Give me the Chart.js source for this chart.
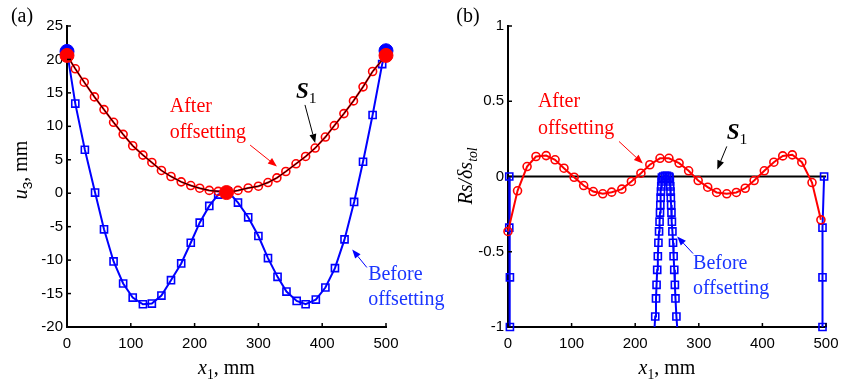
<!DOCTYPE html>
<html>
<head>
<meta charset="utf-8">
<script src="https://cdn.jsdelivr.net/npm/chart.js@4.4.0/dist/chart.umd.min.js"></script>
<style>
    body { margin: 0; background: #fff; }
    #wrap { position: relative; width: 849px; height: 381px; }
    canvas { position: absolute; top: 0; }
    #chartA { left: 0; }
    #chartB { left: 424px; }
</style>
</head>
<body>
<div id="wrap">
    <canvas id="chartA" width="470" height="381"></canvas>
    <canvas id="chartB" width="425" height="381"></canvas>
</div>
<script>
//------------Data (a) : u3 along x1-----------------
const xTicks = [0, 100, 200, 300, 400, 500];
const u3Ticks = [-20, -15, -10, -5, 0, 5, 10, 15, 20, 25];

const afterX = [0, 13, 27, 43, 58, 73, 88, 103, 119, 133, 148, 163, 179, 194, 208, 223, 237, 250,
    268, 284, 300, 315, 329, 343, 359, 374, 389, 405, 419, 434, 449, 464, 479, 500];
const afterU3 = [20.6, 18.6, 16.6, 14.4, 12.5, 10.6, 8.8, 7.1, 5.7, 4.6, 3.4, 2.5, 1.7, 1.15, 0.75, 0.42, 0.27, 0.1,
    0.42, 0.78, 1.05, 1.6, 2.3, 3.25, 4.4, 5.5, 6.75, 8.4, 10.1, 11.9, 13.8, 15.9, 18.2, 20.6];

const beforeX = [0, 13, 28, 44, 58, 73, 88, 103, 119, 133, 148, 163, 179, 194, 208, 223, 237, 252,
    268, 284, 300, 315, 330, 344, 360, 374, 390, 405, 420, 435, 450, 464, 479, 494, 500];
const beforeU3 = [21.2, 13.4, 6.5, 0.1, -5.4, -10.2, -13.5, -15.6, -16.6, -16.5, -15.3, -13.0, -10.5, -7.4, -4.4, -1.9, -0.2, 0.3,
    -1.4, -3.6, -6.4, -9.7, -12.5, -14.7, -16.1, -16.6, -15.9, -14.1, -11.2, -6.9, -1.3, 4.7, 11.7, 19.3, 21.3];

//------------Data (b) : Rs / ds_tol along x1-----------------
const rsTicks = [-1, -0.5, 0, 0.5, 1];

const afterRsX = [0, 15, 30, 44, 60, 74, 88, 104, 119, 134, 149, 163, 179, 194, 209, 223, 239, 253,
    269, 284, 299, 314, 328, 344, 359, 373, 387, 403, 418, 432, 447, 462, 478, 492];
const afterRs = [-0.365, -0.095, 0.066, 0.133, 0.139, 0.111, 0.055, -0.005, -0.06, -0.1, -0.115, -0.104, -0.084, -0.033, 0.022, 0.078, 0.121, 0.121,
    0.089, 0.038, -0.027, -0.071, -0.106, -0.115, -0.106, -0.078, -0.027, 0.038, 0.095, 0.137, 0.144, 0.095, -0.04, -0.288];

// before offsetting: clipped at -1, three visible pieces
const beforeRsLeftX = [2, 2, 3, 3];
const beforeRsLeft = [0, -0.34, -0.67, -1];
const beforeRsMidX = [230.5, 231.5, 232.7, 233.6, 234.6, 235.6, 236.5, 237.5, 238.3, 239, 239.5, 240, 240.5, 241, 241.5, 242, 244, 247,
    250, 253, 254, 254.5, 255, 255.5, 256, 256.5, 257, 257.7, 258.5, 259.5, 260.4, 261.4, 262.4, 263.3, 264.8, 266];
const beforeRsMid = [-1, -0.93, -0.81, -0.72, -0.62, -0.53, -0.44, -0.365, -0.3, -0.24, -0.19, -0.14, -0.1, -0.066, -0.033, -0.007, 0, 0.005,
    0.005, 0, -0.007, -0.033, -0.066, -0.1, -0.14, -0.19, -0.24, -0.3, -0.365, -0.44, -0.53, -0.62, -0.72, -0.81, -0.93, -1];
const beforeRsRightX = [497, 494.5, 494.5, 494.5];
const beforeRsRight = [0, -0.34, -0.67, -1];

const s1X = [0, 500];
const s1Rs = [0, 0];

//------------Helpers-----------------
const RED = '#ff0000';
const BLUE = '#0000ff';
const SERIF = '"Liberation Serif", "Times New Roman", serif';
const SANS = '"Liberation Sans", Arial, sans-serif';

function pts(xs, ys) {
    return xs.map((x, i) => ({ x: x, y: ys[i] }));
}

// draw text made of parts (italic / bold / subscript)
function drawRich(ctx, parts, x, y, size, align, color) {
    let total = 0;
    const info = parts.map(p => {
        const s = p.sub ? size * 0.68 : size;
        const f = (p.italic ? 'italic ' : '') + (p.bold ? 'bold ' : '') + s + 'px ' + (p.sans ? SANS : SERIF);
        ctx.font = f;
        const w = ctx.measureText(p.text).width;
        total += w;
        return { f: f, w: w, dy: p.sub ? size * 0.3 : 0 };
    });
    let cx = align === 'center' ? x - total / 2 : x;
    ctx.fillStyle = color;
    ctx.textBaseline = 'middle';
    ctx.textAlign = 'left';
    parts.forEach((p, i) => {
        ctx.font = info[i].f;
        ctx.fillText(p.text, cx, y + info[i].dy);
        cx += info[i].w;
    });
}

function drawArrow(ctx, x1, y1, x2, y2, color) {
    const a = Math.atan2(y2 - y1, x2 - x1);
    const head = 9, half = 3.5;
    const c = Math.cos(a), s = Math.sin(a);
    ctx.strokeStyle = color;
    ctx.fillStyle = color;
    ctx.lineWidth = 1;
    ctx.beginPath();
    ctx.moveTo(x1, y1);
    ctx.lineTo(x2 - head * c, y2 - head * s);
    ctx.stroke();
    ctx.beginPath();
    ctx.moveTo(x2, y2);
    ctx.lineTo(x2 - head * c + half * s, y2 - head * s - half * c);
    ctx.lineTo(x2 - head * c - half * s, y2 - head * s + half * c);
    ctx.closePath();
    ctx.fill();
}

// inward tick marks + titles + notes
const decorPlugin = {
    id: 'decor',
    afterDraw(chart, args, opts) {
        const ctx = chart.ctx;
        const xs = chart.scales.x, ys = chart.scales.y;
        const area = chart.chartArea;
        ctx.save();
        ctx.strokeStyle = '#000';
        ctx.lineWidth = 1.5;
        xs.ticks.forEach(t => {
            const px = xs.getPixelForValue(t.value);
            ctx.beginPath(); ctx.moveTo(px, area.bottom); ctx.lineTo(px, area.bottom - 4); ctx.stroke();
        });
        ys.ticks.forEach(t => {
            const py = ys.getPixelForValue(t.value);
            ctx.beginPath(); ctx.moveTo(area.left, py); ctx.lineTo(area.left + 4, py); ctx.stroke();
        });

        // panel tag
        ctx.font = '20px ' + SERIF;
        ctx.fillStyle = '#000';
        ctx.textAlign = 'center';
        ctx.textBaseline = 'middle';
        ctx.fillText(opts.tag, opts.tagX, 17);

        // x title
        drawRich(ctx, [{ text: 'x', italic: true }, { text: '1', sub: true }, { text: ', mm' }],
            (area.left + area.right) / 2, 369, 20, 'center', '#000');

        // y title (rotated)
        ctx.save();
        ctx.translate(opts.yTitleX, opts.yTitleY);
        ctx.rotate(-Math.PI / 2);
        drawRich(ctx, opts.yTitle, 0, 0, 20, 'center', '#000');
        ctx.restore();

        // notes
        opts.notes.forEach(n => {
            drawRich(ctx, n.parts, xs.getPixelForValue(n.x), ys.getPixelForValue(n.y), n.size || 20, 'left', n.color);
        });
        opts.arrows.forEach(a => {
            drawArrow(ctx, xs.getPixelForValue(a.x1), ys.getPixelForValue(a.y1),
                xs.getPixelForValue(a.x2), ys.getPixelForValue(a.y2), a.color);
        });
        ctx.restore();
    }
};

function axes(yTicks, yMin, yMax, yWidth) {
    const tickFont = { family: SANS, size: 15 };
    return {
        x: {
            type: 'linear', min: 0, max: 500,
            afterBuildTicks: s => { s.ticks = xTicks.map(v => ({ value: v })); },
            afterFit: s => { s.height = 54; },
            grid: { display: false, drawTicks: false },
            border: { display: true, color: '#000', width: 2 },
            ticks: { color: '#000', font: tickFont, padding: 8, autoSkip: false, maxRotation: 0, callback: v => String(v) }
        },
        y: {
            type: 'linear', min: yMin, max: yMax,
            afterBuildTicks: s => { s.ticks = yTicks.map(v => ({ value: v })); },
            afterFit: s => { s.width = yWidth; },
            grid: { display: false, drawTicks: false },
            border: { display: true, color: '#000', width: 2 },
            ticks: { color: '#000', font: tickFont, padding: 4, autoSkip: false, callback: v => String(v) }
        }
    };
}

function lineSet(data, color, style, radius) {
    return {
        data: data,
        borderColor: color,
        borderWidth: 2,
        pointStyle: style,
        pointRadius: radius,
        pointBorderColor: color,
        pointBorderWidth: 1.6,
        pointBackgroundColor: 'rgba(0,0,0,0)',
        tension: 0,
        clip: false
    };
}

//------------Chart (a)-----------------
const aLast = afterU3.length - 1;
const bLast = beforeU3.length - 1;

new Chart(document.getElementById('chartA'), {
    type: 'line',
    data: {
        datasets: [
            {
                data: [
                    { x: afterX[0], y: afterU3[0] },
                    { x: afterX[17], y: afterU3[17] },
                    { x: afterX[aLast], y: afterU3[aLast] }
                ],
                showLine: false, pointRadius: 7, pointBackgroundColor: RED, pointBorderColor: RED, clip: false
            },
            {
                data: [
                    { x: beforeX[0], y: beforeU3[0] },
                    { x: beforeX[bLast], y: beforeU3[bLast] }
                ],
                showLine: false, pointRadius: 7, pointBackgroundColor: BLUE, pointBorderColor: BLUE, clip: false
            },
            // S1 follows the offset curve
            { data: pts(afterX, afterU3), borderColor: '#000', borderWidth: 1, pointRadius: 0, clip: false },
            lineSet(pts(afterX, afterU3), RED, 'circle', 4),
            lineSet(pts(beforeX, beforeU3), BLUE, 'rect', 5)
        ]
    },
    options: {
        responsive: false,
        animation: false,
        events: [],
        layout: { padding: { left: 0, top: 26, right: 84, bottom: 0 } },
        scales: axes(u3Ticks, -20, 25, 67),
        plugins: {
            legend: { display: false },
            tooltip: { enabled: false },
            decor: {
                tag: '(a)', tagX: 22, yTitleX: 22, yTitleY: 170,
                yTitle: [{ text: 'u', italic: true }, { text: '3', sub: true, sans: true }, { text: ', mm' }],
                notes: [
                    { parts: [{ text: 'After' }], x: 161, y: 12.9, color: RED },
                    { parts: [{ text: 'offsetting' }], x: 161, y: 9.1, color: RED },
                    { parts: [{ text: 'S', italic: true, bold: true }, { text: '1', sub: true }], x: 359, y: 15.1, color: '#000', size: 23 },
                    { parts: [{ text: 'Before' }], x: 472, y: -12.2, color: '#1a35ff' },
                    { parts: [{ text: 'offsetting' }], x: 472, y: -16.0, color: '#1a35ff' }
                ],
                arrows: [
                    { x1: 287, y1: 7.2, x2: 329, y2: 4.0, color: RED },
                    { x1: 373, y1: 13.2, x2: 389, y2: 7.5, color: '#000' },
                    { x1: 470, y1: -11.1, x2: 447, y2: -8.4, color: BLUE }
                ]
            }
        }
    },
    plugins: [decorPlugin]
});

//------------Chart (b)-----------------
const midSet = lineSet(pts(beforeRsMidX, beforeRsMid), BLUE, 'rect', 5);
midSet.pointRadius = c => (c.raw && c.raw.y <= -0.99 ? 0 : 5);

new Chart(document.getElementById('chartB'), {
    type: 'line',
    data: {
        datasets: [
            lineSet(pts(afterRsX, afterRs), RED, 'circle', 4),
            lineSet(pts(beforeRsLeftX, beforeRsLeft), BLUE, 'rect', 5),
            midSet,
            lineSet(pts(beforeRsRightX, beforeRsRight), BLUE, 'rect', 5),
            { data: pts(s1X, s1Rs), borderColor: '#000', borderWidth: 2, pointRadius: 0, clip: false }
        ]
    },
    options: {
        responsive: false,
        animation: false,
        events: [],
        layout: { padding: { left: 0, top: 26, right: 23, bottom: 0 } },
        scales: axes(rsTicks, -1, 1, 84),
        plugins: {
            legend: { display: false },
            tooltip: { enabled: false },
            decor: {
                tag: '(b)', tagX: 44, yTitleX: 43, yTitleY: 176,
                yTitle: [{ text: 'Rs/δs', italic: true }, { text: 'tol', italic: true, sub: true }],
                notes: [
                    { parts: [{ text: 'After' }], x: 47, y: 0.5, color: RED },
                    { parts: [{ text: 'offsetting' }], x: 47, y: 0.32, color: RED },
                    { parts: [{ text: 'S', italic: true, bold: true }, { text: '1', sub: true }], x: 344, y: 0.29, color: '#000', size: 23 },
                    { parts: [{ text: 'Before' }], x: 291, y: -0.578, color: '#1a35ff' },
                    { parts: [{ text: 'offsetting' }], x: 291, y: -0.744, color: '#1a35ff' }
                ],
                arrows: [
                    { x1: 174.5, y1: 0.233, x2: 212, y2: 0.086, color: RED },
                    { x1: 344, y1: 0.2, x2: 329, y2: 0.047, color: '#000' },
                    { x1: 291, y1: -0.512, x2: 266, y2: -0.399, color: BLUE }
                ]
            }
        }
    },
    plugins: [decorPlugin]
});
</script>
</body>
</html>
